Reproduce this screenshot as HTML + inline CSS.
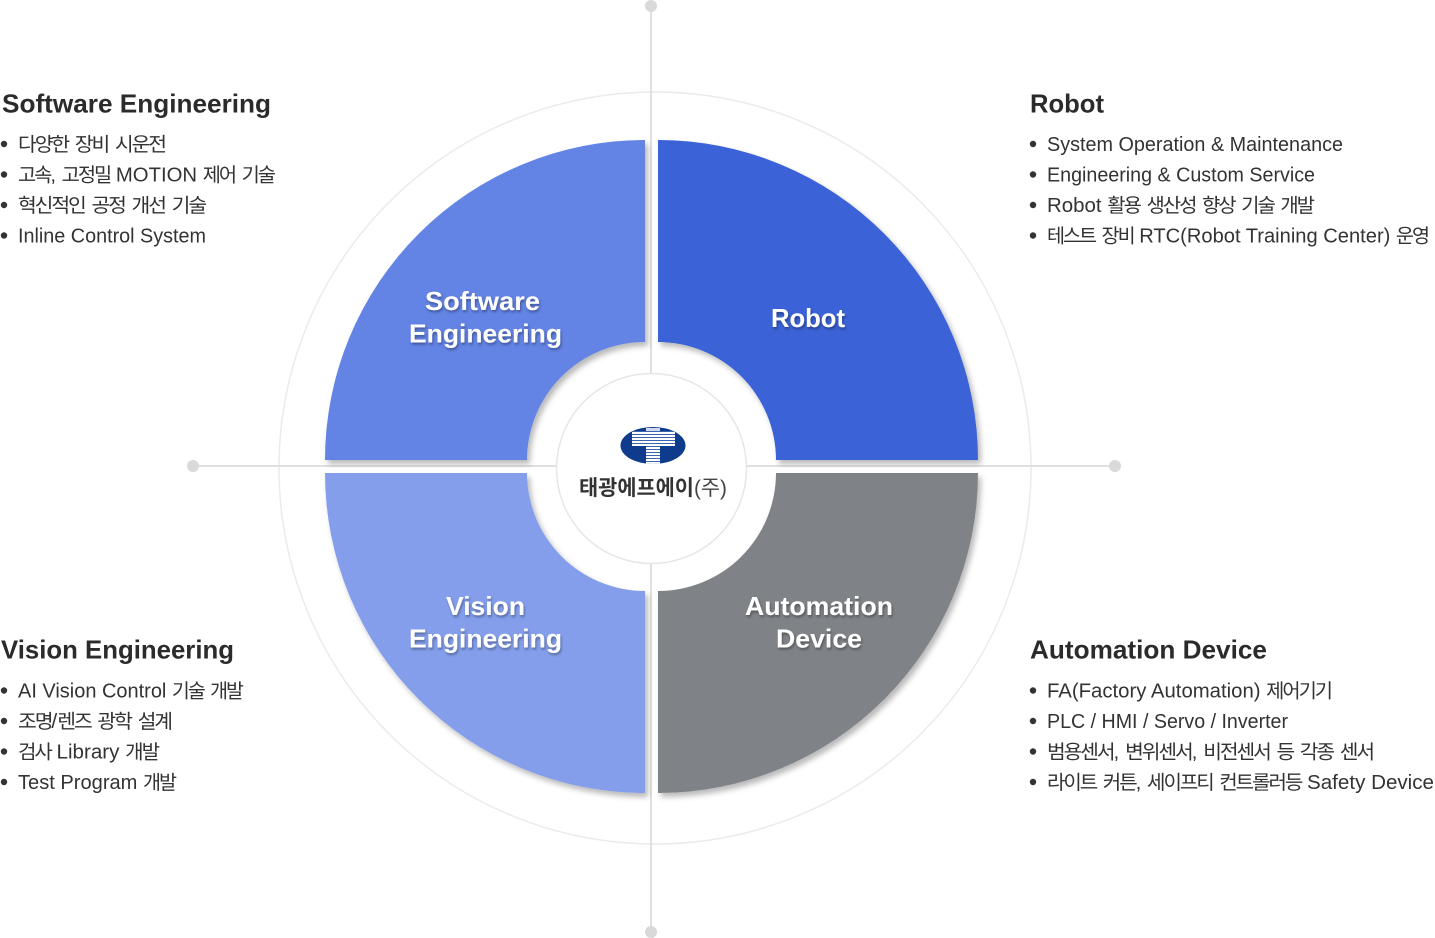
<!DOCTYPE html>
<html>
<head>
<meta charset="utf-8">
<style>
  html,body{margin:0;padding:0;background:#fff;}
  body{width:1435px;height:938px;overflow:hidden;}
  svg{display:block;}
  text{font-family:"Liberation Sans","Noto Sans CJK KR",sans-serif;}
  .k{font-family:"Liberation Sans","Noto Sans CJK KR",sans-serif;font-size:19.5px;letter-spacing:-2px;word-spacing:3px;}
  .it{font-size:20px;fill:#333;}
  .hd{font-size:26px;font-weight:bold;fill:#2b2b2b;}
  .ql{font-size:26px;font-weight:bold;fill:#fff;}
</style>
</head>
<body>
<svg width="1435" height="938" viewBox="0 0 1435 938" xmlns="http://www.w3.org/2000/svg">
  <defs>
    <filter id="sh" x="-10%" y="-10%" width="130%" height="130%">
      <feDropShadow dx="3" dy="4" stdDeviation="3" flood-color="#000" flood-opacity="0.28"/>
    </filter>
    <filter id="ts" x="-10%" y="-30%" width="130%" height="160%">
      <feDropShadow dx="1" dy="2" stdDeviation="1.2" flood-color="#000" flood-opacity="0.35"/>
    </filter>
    <pattern id="stripe" width="4" height="3" patternUnits="userSpaceOnUse">
      <rect width="4" height="2" fill="#fff"/>
      <rect y="2" width="4" height="1" fill="#3a63b0"/>
    </pattern>
    <clipPath id="ec"><ellipse cx="653" cy="445.5" rx="32.5" ry="18.5"/></clipPath>
  </defs>

  <!-- outer thin circle -->
  <circle cx="655" cy="468" r="376" fill="none" stroke="#ebebeb" stroke-width="1.5"/>

  <!-- axis lines -->
  <line x1="651" y1="6" x2="651" y2="932" stroke="#e0e0e0" stroke-width="2"/>
  <line x1="193" y1="466" x2="1115" y2="466" stroke="#e0e0e0" stroke-width="2"/>
  <circle cx="651" cy="6" r="6" fill="#d9d9d9"/>
  <circle cx="651" cy="932" r="6" fill="#d9d9d9"/>
  <circle cx="193" cy="466" r="6" fill="#d9d9d9"/>
  <circle cx="1115" cy="466" r="6" fill="#d9d9d9"/>

  <!-- quadrants -->
  <g filter="url(#sh)">
    <path d="M645 140 A320 320 0 0 0 325 460 L527 460 A118 118 0 0 1 645 342 Z" fill="#6383e5"/>
    <path d="M658 140 A320 320 0 0 1 978 460 L776 460 A118 118 0 0 0 658 342 Z" fill="#3a62d6"/>
    <path d="M325 473 A320 320 0 0 0 645 793 L645 591 A118 118 0 0 1 527 473 Z" fill="#849eeb"/>
    <path d="M658 793 A320 320 0 0 0 978 473 L776 473 A118 118 0 0 1 658 591 Z" fill="#7f8387"/>
  </g>

  <!-- center circle -->
  <circle cx="651.5" cy="468.5" r="95" fill="#fff" stroke="#e6e6e6" stroke-width="1.5"/>

  <!-- logo -->
  <ellipse cx="653" cy="445.5" rx="32.5" ry="18.5" fill="#0e3b8c"/>
  <g clip-path="url(#ec)">
    <rect x="632" y="431" width="43" height="15" fill="url(#stripe)"/>
    <rect x="646" y="446" width="14" height="20" fill="url(#stripe)"/>
    <rect x="646" y="428" width="14" height="3" fill="#cfd8ee"/>
  </g>
  <text x="579" y="495" textLength="148" lengthAdjust="spacingAndGlyphs" font-size="21" font-weight="bold" fill="#333">태광에프에이<tspan font-weight="normal" fill="#444">(주)</tspan></text>

  <!-- quadrant labels -->
  <g filter="url(#ts)">
    <text class="ql" x="482.5" y="310" text-anchor="middle" textLength="115" lengthAdjust="spacingAndGlyphs">Software</text>
    <text class="ql" x="485.5" y="342.5" text-anchor="middle" textLength="153" lengthAdjust="spacingAndGlyphs">Engineering</text>
    <text class="ql" x="808" y="327" text-anchor="middle" textLength="74" lengthAdjust="spacingAndGlyphs">Robot</text>
    <text class="ql" x="485.5" y="615" text-anchor="middle" textLength="79" lengthAdjust="spacingAndGlyphs">Vision</text>
    <text class="ql" x="485.5" y="647.5" text-anchor="middle" textLength="153" lengthAdjust="spacingAndGlyphs">Engineering</text>
    <text class="ql" x="819" y="615" text-anchor="middle" textLength="148" lengthAdjust="spacingAndGlyphs">Automation</text>
    <text class="ql" x="819" y="647.5" text-anchor="middle" textLength="86" lengthAdjust="spacingAndGlyphs">Device</text>
  </g>

  <!-- headings -->
  <text class="hd" x="2" y="112.5" textLength="269" lengthAdjust="spacingAndGlyphs">Software Engineering</text>
  <text class="hd" x="1030" y="112.5" textLength="74" lengthAdjust="spacingAndGlyphs">Robot</text>
  <text class="hd" x="1" y="658.5" textLength="233" lengthAdjust="spacingAndGlyphs">Vision Engineering</text>
  <text class="hd" x="1030" y="658.5" textLength="237" lengthAdjust="spacingAndGlyphs">Automation Device</text>

  <!-- bullets -->
  <g fill="#333">
    <circle cx="4" cy="144" r="3.2"/><circle cx="4" cy="174.5" r="3.2"/><circle cx="4" cy="205" r="3.2"/><circle cx="4" cy="235.5" r="3.2"/>
    <circle cx="1033" cy="144" r="3.2"/><circle cx="1033" cy="174.5" r="3.2"/><circle cx="1033" cy="205" r="3.2"/><circle cx="1033" cy="235.5" r="3.2"/>
    <circle cx="4" cy="690.5" r="3.2"/><circle cx="4" cy="721" r="3.2"/><circle cx="4" cy="751.5" r="3.2"/><circle cx="4" cy="782" r="3.2"/>
    <circle cx="1033" cy="690.5" r="3.2"/><circle cx="1033" cy="721" r="3.2"/><circle cx="1033" cy="751.5" r="3.2"/><circle cx="1033" cy="782" r="3.2"/>
  </g>

  <!-- left top items -->
  <text class="it" x="18" y="151" textLength="147" lengthAdjust="spacingAndGlyphs"><tspan class="k">다양한 장비 시운전</tspan></text>
  <text class="it" x="18" y="181.5" textLength="256" lengthAdjust="spacingAndGlyphs"><tspan class="k">고속</tspan>, <tspan class="k">고정밀</tspan> MOTION <tspan class="k">제어 기술</tspan></text>
  <text class="it" x="18" y="212" textLength="187" lengthAdjust="spacingAndGlyphs"><tspan class="k">혁신적인 공정 개선 기술</tspan></text>
  <text class="it" x="18" y="242.5" textLength="188" lengthAdjust="spacingAndGlyphs">Inline Control System</text>

  <!-- right top items -->
  <text class="it" x="1047" y="151" textLength="296" lengthAdjust="spacingAndGlyphs">System Operation &amp; Maintenance</text>
  <text class="it" x="1047" y="181.5" textLength="268" lengthAdjust="spacingAndGlyphs">Engineering &amp; Custom Service</text>
  <text class="it" x="1047" y="212" textLength="266" lengthAdjust="spacingAndGlyphs">Robot <tspan class="k">활용 생산성 향상 기술 개발</tspan></text>
  <text class="it" x="1047" y="242.5" textLength="381" lengthAdjust="spacingAndGlyphs"><tspan class="k">테스트 장비</tspan> RTC(Robot Training Center) <tspan class="k">운영</tspan></text>

  <!-- left bottom items -->
  <text class="it" x="18" y="697.5" textLength="224" lengthAdjust="spacingAndGlyphs">AI Vision Control <tspan class="k">기술 개발</tspan></text>
  <text class="it" x="18" y="728" textLength="153" lengthAdjust="spacingAndGlyphs"><tspan class="k">조명</tspan>/<tspan class="k">렌즈 광학 설계</tspan></text>
  <text class="it" x="18" y="758.5" textLength="140" lengthAdjust="spacingAndGlyphs"><tspan class="k">검사</tspan> Library <tspan class="k">개발</tspan></text>
  <text class="it" x="18" y="789" textLength="157" lengthAdjust="spacingAndGlyphs">Test Program <tspan class="k">개발</tspan></text>

  <!-- right bottom items -->
  <text class="it" x="1047" y="697.5" textLength="284" lengthAdjust="spacingAndGlyphs">FA(Factory Automation) <tspan class="k">제어기기</tspan></text>
  <text class="it" x="1047" y="728" textLength="241" lengthAdjust="spacingAndGlyphs">PLC / HMI / Servo / Inverter</text>
  <text class="it" x="1047" y="758.5" textLength="326" lengthAdjust="spacingAndGlyphs"><tspan class="k">범용센서</tspan>, <tspan class="k">변위센서</tspan>, <tspan class="k">비전센서 등 각종 센서</tspan></text>
  <text class="it" x="1047" y="789" textLength="387" lengthAdjust="spacingAndGlyphs"><tspan class="k">라이트 커튼</tspan>, <tspan class="k">세이프티 컨트롤러등</tspan> Safety Device</text>
</svg>
</body>
</html>
